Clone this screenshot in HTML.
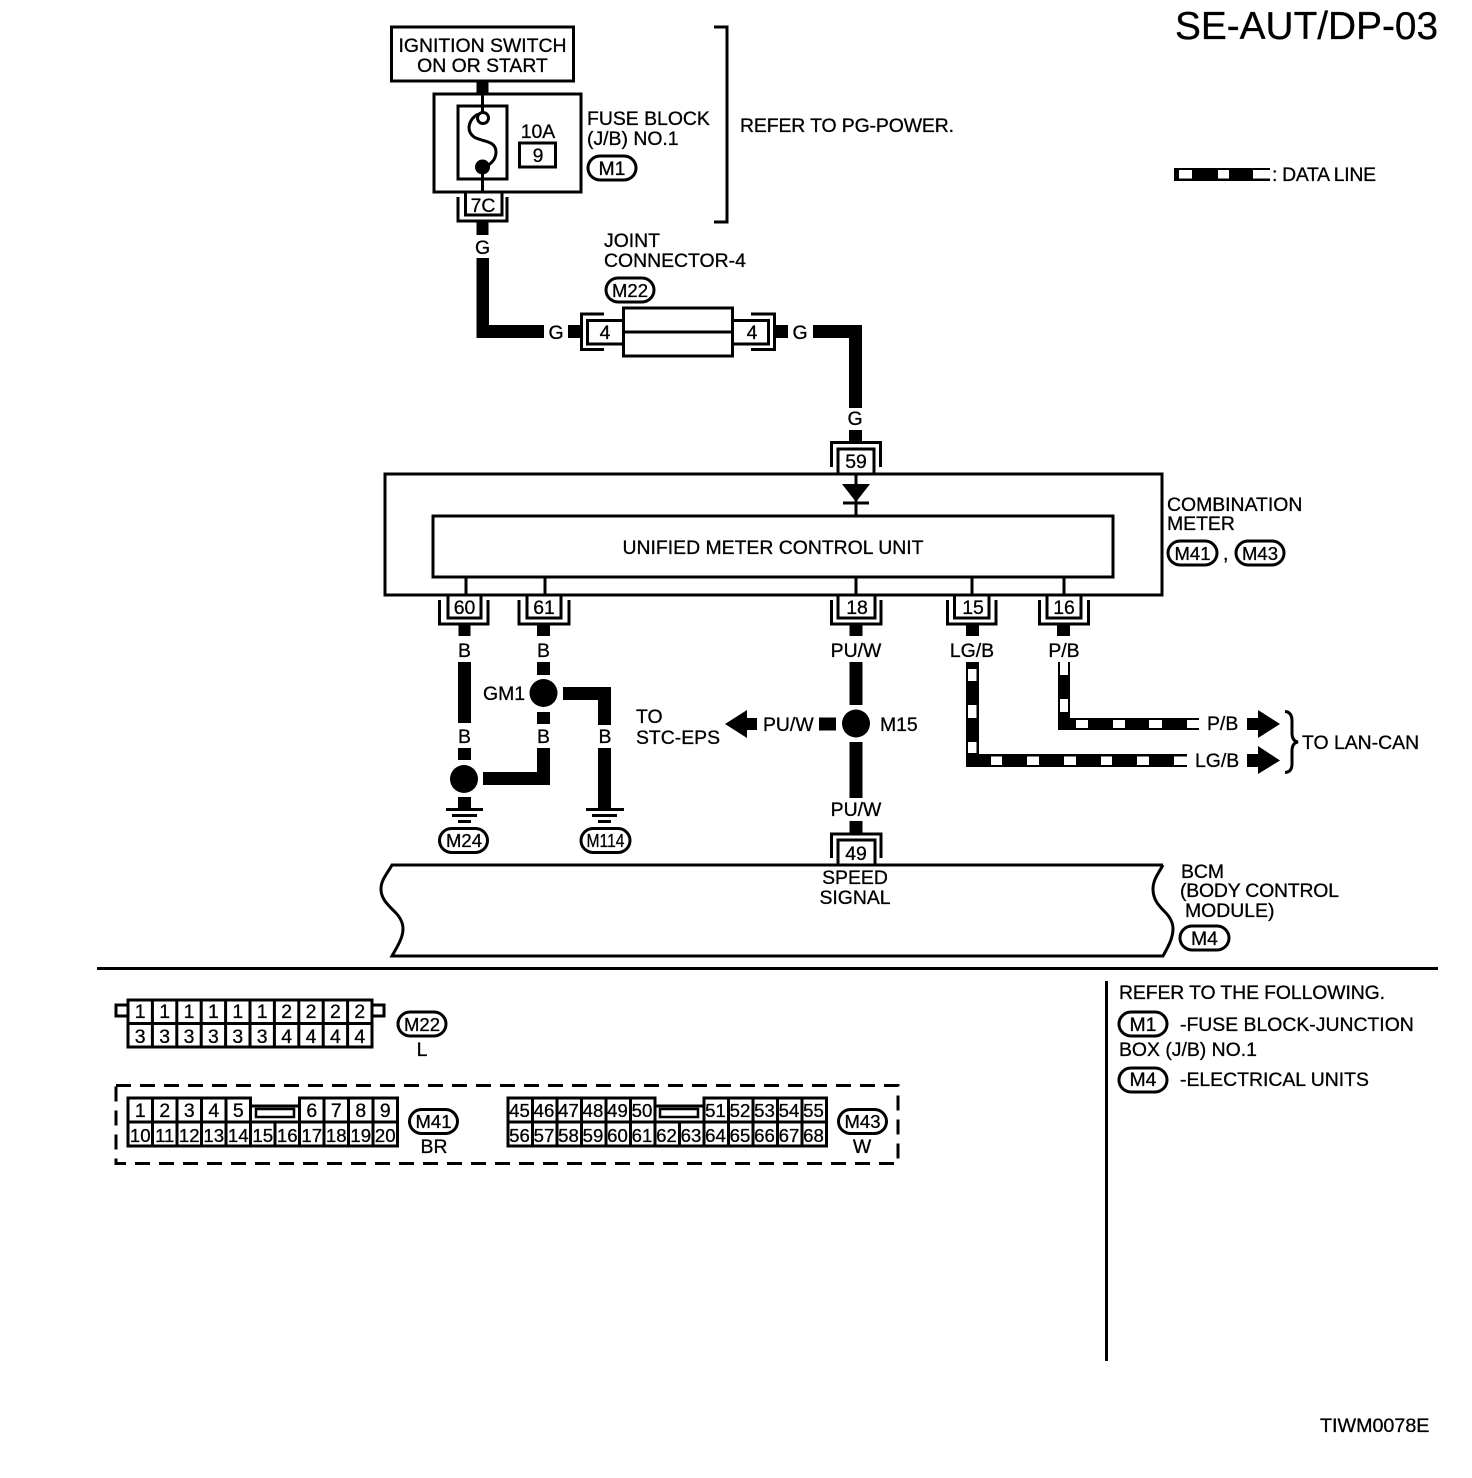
<!DOCTYPE html>
<html><head><meta charset="utf-8"><style>
html,body{margin:0;padding:0;background:#fff}
svg{display:block}
text{font-family:"Liberation Sans",sans-serif;font-size:19.4px;fill:#000;stroke:#000;stroke-width:.3px}
.m{text-anchor:middle}
.s{font-size:18.6px}
.l{fill:none;stroke:#000;stroke-width:3}
.w{fill:#fff}
</style></head><body>
<svg width="1472" height="1478" viewBox="0 0 1472 1478" xmlns="http://www.w3.org/2000/svg">
<rect width="1472" height="1478" fill="#fff"/>
<text x="1175" y="39" style="font-size:38.8px">SE-AUT/DP-03</text>
<text x="1320" y="1432" style="font-size:19.7px">TIWM0078E</text>

<!-- ignition / fuse -->
<rect class="l" x="391.5" y="27" width="182" height="54"/>
<text class="m" x="482.5" y="52">IGNITION SWITCH</text>
<text class="m" x="482.5" y="72">ON OR START</text>
<rect x="476.5" y="81" width="12" height="13"/>
<rect class="l" x="434" y="94" width="147" height="98"/>
<rect class="l" x="458" y="106" width="49" height="73"/>
<path class="l" d="M482.5 94V112M482.5 167V192"/>
<circle class="l" cx="483" cy="118" r="5.5"/>
<circle cx="482.5" cy="167" r="7.5"/>
<path class="l" d="M478 114C468 120 466 131 474 137C482 142 496 140 496 152C496 160 490 165 484 167"/>
<text class="m" x="538" y="138">10A</text>
<rect class="l" x="519.5" y="143" width="36" height="24"/>
<text class="m" x="538" y="162">9</text>
<text x="587" y="125">FUSE BLOCK</text>
<text x="587" y="145">(J/B) NO.1</text>
<rect class="l" x="588" y="156" width="48" height="24" rx="12"/>
<text class="m" x="612" y="175">M1</text>
<path class="l" d="M714 27H727V222H714"/>
<text x="740" y="132" textLength="214">REFER TO PG-POWER.</text>
<path class="l" d="M465.5 192V215H502V192M458 197V221H507V197"/>
<text class="m" x="483" y="212">7C</text>
<rect x="476.5" y="222" width="12" height="13"/>
<text class="m" x="482.5" y="254">G</text>
<path d="M476.5 258H489V325H544V338H476.5Z"/>

<!-- joint connector -->
<text x="604" y="247">JOINT</text>
<text x="604" y="267">CONNECTOR-4</text>
<rect class="l" x="606" y="278" width="48" height="24" rx="12"/>
<text class="m" x="630" y="297" style="font-size:18.5px">M22</text>
<text class="m" x="556" y="339">G</text>
<rect x="568" y="325" width="13" height="13"/>
<rect class="l" x="623.5" y="308" width="109" height="48"/>
<path class="l" d="M623.5 332H732.5"/>
<path class="l" d="M623.5 320.5H587.5V344H623.5M604 314H581.5V349.5H604"/>
<path class="l" d="M732.5 320.5H768.5V344H732.5M751 314H774.5V349.5H751"/>
<text class="m" x="605" y="339">4</text>
<text class="m" x="752" y="339">4</text>
<rect x="775" y="325" width="13" height="13"/>
<text class="m" x="800" y="339">G</text>
<path d="M813 325H862V408H849V338H813Z"/>
<text class="m" x="855" y="425">G</text>
<rect x="849" y="430" width="13" height="12"/>
<path class="l" d="M831.5 467V442.5H880.5V467M838 473V449H874V473"/>
<text class="m" x="856" y="468">59</text>

<!-- combination meter -->
<rect class="l" x="385" y="474" width="777" height="121"/>
<rect class="l" x="433" y="516" width="680" height="61"/>
<path class="l" d="M856 474V516M843 503H869"/>
<path d="M842 484H870L856 502Z"/>
<text class="m" x="773" y="554">UNIFIED METER CONTROL UNIT</text>
<text x="1167" y="511">COMBINATION</text>
<text x="1167" y="530">METER</text>
<rect class="l" x="1168" y="541" width="49" height="24" rx="12"/>
<text class="m" x="1192.5" y="560" style="font-size:18.5px">M41</text>
<text x="1223" y="560">,</text>
<rect class="l" x="1236" y="541" width="48" height="24" rx="12"/>
<text class="m" x="1260" y="560" style="font-size:18.5px">M43</text>
<path class="l" d="M466 577V595M545 577V595M856 577V595M972 577V595M1064 577V595"/>

<!-- lower connectors -->
<path class="l" d="M448 595V618H481V595M439.5 600V624H488V600"/>
<text class="m" x="464.5" y="614">60</text>
<path class="l" d="M527 595V618H561V595M519 600V624H569V600"/>
<text class="m" x="544" y="614">61</text>
<path class="l" d="M838 595V618H875V595M831.5 600V624H881V600"/>
<text class="m" x="857" y="614">18</text>
<path class="l" d="M954.5 595V618H989V595M947.5 600V624H996V600"/>
<text class="m" x="973" y="614">15</text>
<path class="l" d="M1047 595V618H1081V595M1039.5 600V624H1088.5V600"/>
<text class="m" x="1064" y="614">16</text>

<!-- left wires -->
<rect x="458.5" y="625" width="12" height="11"/>
<text class="m" x="464.5" y="657">B</text>
<rect x="458" y="662" width="13" height="61"/>
<text class="m" x="464.5" y="743">B</text>
<rect x="458" y="748" width="13" height="12"/>
<circle cx="464" cy="779" r="14"/>
<rect x="458" y="797" width="13" height="12"/>
<path d="M537 748H550V785H483V772H537Z"/>
<rect x="537" y="625" width="13" height="11"/>
<text class="m" x="543.5" y="657">B</text>
<rect x="537" y="662" width="13" height="13"/>
<circle cx="543.5" cy="693" r="14"/>
<rect x="537" y="712" width="13" height="12"/>
<text class="m" x="543.5" y="743">B</text>
<text x="483" y="700">GM1</text>
<path d="M563 687H611V725H598V700H563Z"/>
<text class="m" x="605" y="743">B</text>
<rect x="598" y="748" width="13" height="61"/>
<path class="l" d="M446 809.5H483M452 815.5H477M458 821.5H471"/>
<path class="l" d="M586 809.5H624M592 815.5H617M598 821.5H611"/>
<rect class="l" x="439.5" y="828.5" width="48" height="24" rx="12"/>
<text class="m" x="464" y="847" style="font-size:18.5px">M24</text>
<rect class="l" x="581" y="828.5" width="49" height="24" rx="12"/>
<text class="m" x="605.5" y="847" style="font-size:18px" textLength="38" lengthAdjust="spacingAndGlyphs">M114</text>
<text x="636" y="723">TO</text>
<text x="636" y="744">STC-EPS</text>

<!-- center wires -->
<rect x="849.5" y="625" width="13" height="11"/>
<text class="m" x="856" y="657">PU/W</text>
<rect x="849.5" y="662" width="13" height="43"/>
<circle cx="856" cy="723.5" r="14"/>
<rect x="849.5" y="742" width="13" height="56"/>
<text class="m" x="856" y="816">PU/W</text>
<rect x="849.5" y="821" width="13" height="12"/>
<rect x="819" y="717.5" width="17" height="13"/>
<text x="763" y="731">PU/W</text>
<path d="M725 724L747 710V718H757V730H747V738Z"/>
<text x="880" y="731">M15</text>
<path class="l" d="M831.5 858V834H881V858M838 864V840H875V864"/>
<text class="m" x="856" y="860">49</text>

<!-- data lines -->
<rect x="966" y="625" width="13" height="11"/>
<text class="m" x="972" y="657">LG/B</text>
<path d="M966 662H979V754H1187V767H966Z"/>
<g class="w">
<rect x="968" y="669" width="8.5" height="12"/><rect x="968" y="705" width="8.5" height="13"/><rect x="968" y="742" width="8.5" height="11"/>
<rect x="991" y="756.5" width="11" height="8.5"/><rect x="1027" y="756.5" width="12" height="8.5"/><rect x="1064" y="756.5" width="12" height="8.5"/><rect x="1101" y="756.5" width="11" height="8.5"/><rect x="1137" y="756.5" width="12" height="8.5"/><rect x="1174" y="756.5" width="14" height="8.5"/>
</g>
<rect x="1057" y="625" width="13" height="11"/>
<text class="m" x="1064" y="657">P/B</text>
<path d="M1058 662H1070V718H1199V730H1058Z"/>
<g class="w">
<rect x="1060" y="660" width="8" height="15"/><rect x="1060" y="699" width="8" height="13"/>
<rect x="1076" y="720" width="12" height="8"/><rect x="1113" y="720" width="12" height="8"/><rect x="1149" y="720" width="13" height="8"/><rect x="1187" y="720" width="13" height="8"/>
</g>
<text x="1207" y="730">P/B</text>
<text x="1195" y="767">LG/B</text>
<path d="M1247 718H1258V710L1280 724L1258 738V730H1247Z"/>
<path d="M1247 754H1258V746L1280 760.5L1258 774V767H1247Z"/>
<path class="l" d="M1285 711.5Q1292 712 1292 721V733Q1292 741 1298 742Q1292 743 1292 751V764Q1292 772 1285 772.5"/>
<text x="1302" y="749">TO LAN-CAN</text>

<!-- legend -->
<path d="M1174 168H1270V181H1174Z"/>
<g class="w"><rect x="1179" y="170" width="13" height="8.5"/><rect x="1218" y="170" width="11" height="8.5"/><rect x="1253" y="170" width="18" height="8.5"/></g>
<text x="1272" y="181" textLength="104">: DATA LINE</text>

<!-- BCM -->
<path class="l" d="M1163 865H392C387 874 381 880 381 889C381 899 388 905 395 912C400 917 403 922 403 929C403 938 397 947 392 956H1163C1168 947 1173 938 1173 929C1173 922 1170 917 1165 912C1158 905 1153 899 1153 889C1153 880 1158 874 1163 865"/>
<text class="m" x="855" y="884">SPEED</text>
<text class="m" x="855" y="904">SIGNAL</text>
<text x="1181" y="878">BCM</text>
<text x="1180" y="897" textLength="159">(BODY CONTROL</text>
<text x="1185" y="917">MODULE)</text>
<rect class="l" x="1180" y="926" width="49" height="24" rx="12"/>
<text class="m" x="1204.5" y="945">M4</text>

<!-- dividers -->
<path class="l" d="M97 968.5H1438M1106.5 981V1361"/>

<!-- M22 connector -->
<rect class="l" x="128" y="1000" width="244" height="47"/>
<rect class="l" x="116" y="1005" width="12" height="11"/>
<rect class="l" x="372" y="1005" width="12" height="11"/>
<path class="l" d="M128 1023.5H372M152.4 1000V1047M176.8 1000V1047M201.2 1000V1047M225.6 1000V1047M250 1000V1047M274.4 1000V1047M298.8 1000V1047M323.2 1000V1047M347.6 1000V1047"/>
<g>
<text class="m" x="140.2" y="1018">1</text><text class="m" x="164.6" y="1018">1</text><text class="m" x="189" y="1018">1</text><text class="m" x="213.4" y="1018">1</text><text class="m" x="237.8" y="1018">1</text><text class="m" x="262.2" y="1018">1</text><text class="m" x="286.6" y="1018">2</text><text class="m" x="311" y="1018">2</text><text class="m" x="335.4" y="1018">2</text><text class="m" x="359.8" y="1018">2</text>
<text class="m" x="140.2" y="1043">3</text><text class="m" x="164.6" y="1043">3</text><text class="m" x="189" y="1043">3</text><text class="m" x="213.4" y="1043">3</text><text class="m" x="237.8" y="1043">3</text><text class="m" x="262.2" y="1043">3</text><text class="m" x="286.6" y="1043">4</text><text class="m" x="311" y="1043">4</text><text class="m" x="335.4" y="1043">4</text><text class="m" x="359.8" y="1043">4</text>
</g>
<rect class="l" x="398" y="1012" width="48" height="24" rx="12"/>
<text class="m" x="422" y="1031" style="font-size:18.5px">M22</text>
<text class="m" x="422" y="1056">L</text>

<!-- dashed -->
<rect class="l" x="116" y="1085.5" width="782" height="78" stroke-dasharray="15 9"/>

<!-- M41 connector -->
<path class="l" d="M128 1098H250.5V1106H299.5V1098H397.5V1146H128ZM128 1122H397.5"/>
<path class="l" d="M152.5 1098V1146M177 1098V1146M201.5 1098V1146M226 1098V1146M250.5 1106V1146M299.5 1106V1146M324 1098V1146M348.5 1098V1146M373 1098V1146M275 1122V1146"/>
<rect x="256" y="1109" width="38" height="8" fill="#fff" stroke="#000" stroke-width="2.5"/>
<g>
<text class="m" x="140.25" y="1117">1</text><text class="m" x="164.75" y="1117">2</text><text class="m" x="189.25" y="1117">3</text><text class="m" x="213.75" y="1117">4</text><text class="m" x="238.25" y="1117">5</text><text class="m" x="311.75" y="1117">6</text><text class="m" x="336.25" y="1117">7</text><text class="m" x="360.75" y="1117">8</text><text class="m" x="385.25" y="1117">9</text>
</g>
<g>
<text class="m s" x="140.25" y="1142">10</text><text class="m s" x="164.75" y="1142">11</text><text class="m s" x="189.25" y="1142">12</text><text class="m s" x="213.75" y="1142">13</text><text class="m s" x="238.25" y="1142">14</text><text class="m s" x="262.75" y="1142">15</text><text class="m s" x="287.25" y="1142">16</text><text class="m s" x="311.75" y="1142">17</text><text class="m s" x="336.25" y="1142">18</text><text class="m s" x="360.75" y="1142">19</text><text class="m s" x="385.25" y="1142">20</text>
</g>
<rect class="l" x="409.5" y="1109.5" width="48" height="24" rx="12"/>
<text class="m" x="433.5" y="1128" style="font-size:18.5px">M41</text>
<text class="m" x="434" y="1153">BR</text>

<!-- M43 connector -->
<path class="l" d="M508 1098H655V1106H704V1098H826.5V1146H508ZM508 1122H826.5"/>
<path class="l" d="M532.5 1098V1146M557 1098V1146M581.5 1098V1146M606 1098V1146M630.5 1098V1146M655 1106V1146M679.5 1122V1146M704 1106V1146M728.5 1098V1146M753 1098V1146M777.5 1098V1146M802 1098V1146"/>
<rect x="660" y="1109" width="38" height="8" fill="#fff" stroke="#000" stroke-width="2.5"/>
<g>
<text class="m s" x="519.5" y="1117">45</text><text class="m s" x="544" y="1117">46</text><text class="m s" x="568.5" y="1117">47</text><text class="m s" x="593" y="1117">48</text><text class="m s" x="617.5" y="1117">49</text><text class="m s" x="642" y="1117">50</text><text class="m s" x="715.5" y="1117">51</text><text class="m s" x="740" y="1117">52</text><text class="m s" x="764.5" y="1117">53</text><text class="m s" x="789" y="1117">54</text><text class="m s" x="813.5" y="1117">55</text>
<text class="m s" x="519.5" y="1142">56</text><text class="m s" x="544" y="1142">57</text><text class="m s" x="568.5" y="1142">58</text><text class="m s" x="593" y="1142">59</text><text class="m s" x="617.5" y="1142">60</text><text class="m s" x="642" y="1142">61</text><text class="m s" x="666.5" y="1142">62</text><text class="m s" x="691" y="1142">63</text><text class="m s" x="715.5" y="1142">64</text><text class="m s" x="740" y="1142">65</text><text class="m s" x="764.5" y="1142">66</text><text class="m s" x="789" y="1142">67</text><text class="m s" x="813.5" y="1142">68</text>
</g>
<rect class="l" x="838.5" y="1109.5" width="48" height="24" rx="12"/>
<text class="m" x="862.5" y="1128" style="font-size:18.5px">M43</text>
<text class="m" x="862" y="1153">W</text>

<!-- refer panel -->
<text x="1119" y="999" textLength="266">REFER TO THE FOLLOWING.</text>
<rect class="l" x="1119" y="1012" width="48" height="24" rx="12"/>
<text class="m" x="1143" y="1031">M1</text>
<text x="1180" y="1031">-FUSE BLOCK-JUNCTION</text>
<text x="1119" y="1056">BOX (J/B) NO.1</text>
<rect class="l" x="1119" y="1068" width="48" height="24" rx="12"/>
<text class="m" x="1143" y="1086">M4</text>
<text x="1180" y="1086">-ELECTRICAL UNITS</text>
</svg>
</body></html>
